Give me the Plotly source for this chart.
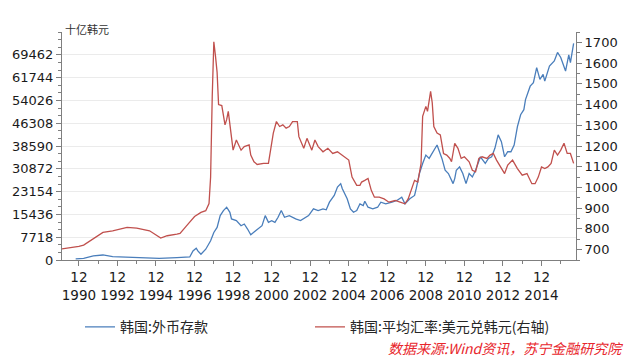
import plotly.graph_objects as go

# 韩国:平均汇率:美元兑韩元 (right axis)
fx_dates = ["1990-01","1990-11","1990-12","1991-03","1991-07","1991-09","1992-03","1992-09","1993-06","1993-12",
            "1994-08","1995-03","1995-07","1996-01","1996-03","1996-07","1996-10","1996-12","1997-04","1997-07",
            "1997-09","1997-10","1997-11","1997-12","1998-01","1998-02","1998-03","1998-05","1998-07","1998-08",
            "1998-09","1998-10","1998-12","1999-02","1999-05","1999-07","1999-10","1999-11","2000-01","2000-03",
            "2000-07","2000-10","2000-12","2001-01","2001-03","2001-05","2001-07","2001-09","2001-11","2002-01",
            "2002-04","2002-05","2002-08","2002-10","2003-01","2003-03","2003-05","2003-08","2003-11","2003-12",
            "2004-02","2004-05","2004-09","2004-12","2005-02","2005-05","2005-07","2005-08","2005-10","2005-12",
            "2006-02","2006-04","2006-07","2006-10","2007-01","2007-05","2007-08","2007-11","2008-01","2008-03",
            "2008-05","2008-07","2008-09","2008-10","2008-12","2009-01","2009-02","2009-03","2009-04","2009-05",
            "2009-07","2009-09","2009-11","2010-01","2010-03","2010-04","2010-06","2010-08","2010-10","2010-12",
            "2011-03","2011-05","2011-07","2011-09","2011-11","2012-02","2012-04","2012-06","2012-08","2012-10",
            "2013-01","2013-03","2013-06","2013-09","2013-12","2014-03","2014-06","2014-08","2014-10","2014-12",
            "2015-02","2015-04","2015-06","2015-08","2015-10","2015-12","2016-02","2016-04","2016-06","2016-08"]
fx_values = [703,713,716,722,742,756,783,791,807,804,
             791,756,767,775,778,815,840,860,880,888,
             922,1050,1440,1703,1635,1555,1400,1395,1302,1327,
             1367,1310,1180,1229,1180,1197,1205,1156,1124,1111,
             1116,1116,1213,1262,1318,1294,1302,1286,1294,1318,
             1318,1245,1189,1237,1180,1229,1197,1172,1189,1180,
             1164,1172,1148,1132,1050,1010,1010,1026,1034,1043,
             986,953,953,945,929,937,929,921,945,986,
             1034,1026,1116,1343,1391,1367,1416,1464,1408,1294,
             1262,1253,1164,1156,1140,1124,1213,1189,1140,1148,
             1124,1083,1075,1140,1148,1140,1156,1164,1132,1108,
             1067,1108,1132,1091,1059,1067,1018,1018,1050,1099,
             1091,1099,1116,1180,1156,1180,1213,1164,1164,1116]

# 韩国:外币存款 (十亿韩元, left axis)
dep_dates = ["1990-10","1991-03","1991-09","1992-03","1992-09","1993-06","1994-04","1995-02","1996-01","1996-09",
             "1996-11","1997-01","1997-02","1997-04","1997-07","1997-10","1997-12","1998-02","1998-04","1998-06",
             "1998-08","1998-10","1998-11","1999-02","1999-05","1999-07","1999-09","1999-11","2000-02","2000-06",
             "2000-08","2000-10","2000-12","2001-02","2001-04","2001-06","2001-08","2001-11","2002-03","2002-06",
             "2002-11","2003-02","2003-05","2003-08","2003-10","2003-12","2004-03","2004-05","2004-07","2004-08",
             "2004-11","2005-01","2005-03","2005-05","2005-07","2005-09","2005-10","2005-12","2006-03","2006-06",
             "2006-08","2006-11","2007-03","2007-06","2007-09","2007-11","2008-02","2008-05","2008-06","2008-08",
             "2008-10","2008-12","2009-02","2009-04","2009-07","2009-10","2009-12","2010-02","2010-05","2010-06",
             "2010-07","2010-09","2010-11","2011-01","2011-03","2011-05","2011-07","2011-10","2012-01","2012-03",
             "2012-05","2012-07","2012-09","2012-11","2013-01","2013-03","2013-05","2013-07","2013-09","2013-11",
             "2014-01","2014-02","2014-05","2014-07","2014-09","2014-11","2015-01","2015-02","2015-05","2015-08",
             "2015-10","2015-12","2016-03","2016-05","2016-06","2016-08"]
dep_values = [400,580,1366,1700,1130,1025,785,580,785,1025,
              3073,4000,3073,1950,3650,6490,9320,11030,15030,16730,
              17860,16150,13900,13320,11610,12190,10480,8540,9900,11610,
              15030,12740,13320,12740,14450,16730,14450,15030,13900,13320,
              15030,17310,16730,17310,17000,19570,21860,24690,25850,24140,
              20730,17310,16150,16730,19020,18440,19900,17860,17310,17860,
              19570,19020,19570,20150,21280,19020,20730,21860,24140,29270,
              32680,35520,34390,36100,38930,34390,30390,29270,25850,27560,
              30390,31520,29270,25850,29270,28110,30390,34940,32680,34390,
              34940,37800,42350,40060,34940,36640,36640,38930,45180,49180,
              50880,54300,58840,60000,65120,61130,62840,60550,65670,67380,
              70250,68540,63960,69430,66830,73350]

# axis ticks
left_ticks = [0, 7718, 15436, 23154, 30872, 38590, 46308, 54026, 61744, 69462]
left_tick_text = ["0", "7718", "15436", "23154", "30872", "38590", "46308", "54026", "61744", "69462"]
right_ticks = [700, 800, 900, 1000, 1100, 1200, 1300, 1400, 1500, 1600, 1700]
x_tick_dates = ["1990-12-01","1992-12-01","1994-12-01","1996-12-01","1998-12-01","2000-12-01","2002-12-01",
                "2004-12-01","2006-12-01","2008-12-01","2010-12-01","2012-12-01","2014-12-01"]
x_tick_text = ["12<br>1990","12<br>1992","12<br>1994","12<br>1996","12<br>1998","12<br>2000","12<br>2002",
               "12<br>2004","12<br>2006","12<br>2008","12<br>2010","12<br>2012","12<br>2014"]
x_minor_dates = ["1991-12-01","1993-12-01","1995-12-01","1997-12-01","1999-12-01","2001-12-01","2003-12-01",
                 "2005-12-01","2007-12-01","2009-12-01","2011-12-01","2013-12-01","2015-12-01"]

name_dep = "韩国:外币存款"
name_fx = "韩国:平均汇率:美元兑韩元(右轴)"

BLUE = "#4a7ebb"
RED = "#c0504d"
AX = "#7f7f7f"
CJK = "Noto Sans CJK SC"
NUM = "DejaVu Sans"

fig = go.Figure()
fig.add_trace(go.Scatter(x=dep_dates, y=dep_values, name=name_dep, mode="lines",
                         line=dict(color=BLUE, width=1.3), yaxis="y", legendwidth=185))
fig.add_trace(go.Scatter(x=fx_dates, y=fx_values, name=name_fx, mode="lines",
                         line=dict(color=RED, width=1.3), yaxis="y2"))

fig.update_layout(
    width=640, height=359,
    margin=dict(l=62, r=64, t=32, b=99, autoexpand=False),
    paper_bgcolor="white", plot_bgcolor="white",
    showlegend=True,
    legend=dict(orientation="h", x=0.035, xanchor="left", y=-0.225, yanchor="top",
                font=dict(family=CJK, size=14, color="#262626"),
                bgcolor="rgba(0,0,0,0)", tracegroupgap=0),
    xaxis=dict(type="date", range=["1990-01-15", "2016-09-15"],
               tickmode="array", tickvals=x_tick_dates, ticktext=x_tick_text, tickangle=0,
               ticks="outside", ticklen=5, tickcolor=AX, tickwidth=1,
               showline=True, linecolor=AX, linewidth=1, showgrid=False, zeroline=False,
               tickfont=dict(family=NUM, size=13.5, color="#1a1a1a"),
               minor=dict(tickmode="array", tickvals=x_minor_dates, ticks="outside",
                          ticklen=3, tickcolor=AX, showgrid=False)),
    yaxis=dict(range=[0, 77180], tickmode="array", tickvals=left_ticks, ticktext=left_tick_text,
               ticks="outside", ticklen=5, tickcolor=AX, tickwidth=1,
               showline=True, linecolor=AX, linewidth=1,
               showgrid=True, gridcolor="#ebebeb", gridwidth=1, zeroline=False,
               tickfont=dict(family=NUM, size=13, color="#1a1a1a"),
               minor=dict(dtick=7718/3, tick0=0, ticks="outside", ticklen=3,
                          tickcolor=AX, showgrid=False)),
    yaxis2=dict(range=[650, 1750], overlaying="y", side="right", tickmode="array",
                tickvals=right_ticks, ticks="outside", ticklen=5, tickcolor=AX, tickwidth=1,
                showline=True, linecolor=AX, linewidth=1, showgrid=False, zeroline=False,
                tickfont=dict(family=NUM, size=13, color="#1a1a1a"),
                minor=dict(dtick=50, tick0=650, ticks="outside", ticklen=3,
                           tickcolor=AX, showgrid=False)),
    annotations=[
        dict(text="十亿韩元", xref="paper", yref="paper", x=0.002, y=1.013, xanchor="left",
             yanchor="middle", showarrow=False, font=dict(family=CJK, size=11, color="#333333")),
        dict(text="<i>数据来源:Wind资讯，苏宁金融研究院</i>", xref="paper", yref="paper",
             x=1.095, y=-0.386, xanchor="right", yanchor="middle", showarrow=False,
             font=dict(family=CJK, size=14, color="#e8262c")),
    ],
)

fig.write_html("out.html", config={"displayModeBar": False},
               post_script="document.body.style.margin='0px';")
